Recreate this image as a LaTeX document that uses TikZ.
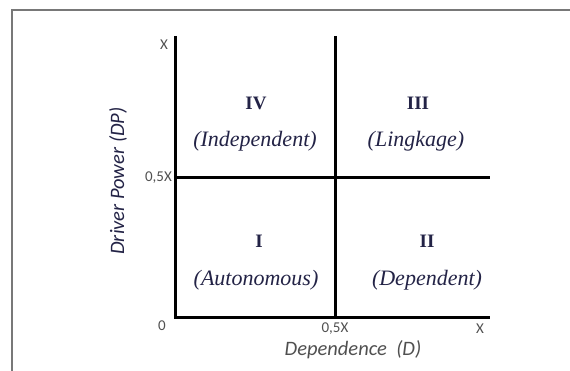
\documentclass[tikz,border=0pt]{standalone}
\usepackage{fontspec}
\setmainfont{Liberation Serif}
\newfontfamily\axisfont{Carlito}
\definecolor{quadink}{RGB}{35,35,70}
\definecolor{tickink}{RGB}{80,80,80}
\definecolor{frameink}{RGB}{120,120,120}

\begin{document}
\begin{tikzpicture}[
  x=1pt, y=1pt,
  frame line/.style={
    draw,
    frameink,
    line width=1.6pt
  },
  axis line/.style={
    draw,
    black,
    line width=3pt
  },
  quad num/.style={
    quadink,
    font=\fontsize{19}{21}\selectfont\bfseries
  },
  quad name/.style={
    quadink,
    font=\fontsize{22}{24}\selectfont\itshape
  },
  tick label/.style={
    tickink,
    font=\axisfont\fontsize{15}{16}\selectfont,
    inner sep=1pt
  },
  axis title/.style={
    tickink,
    font=\axisfont\fontsize{20.5}{22}\selectfont\itshape
  },
]
\useasboundingbox (0,0) rectangle (570,371);
\path[frame line] (12,0) -- (12,361) -- (570,361);

\coordinate (origin) at (175,53);
\coordinate (ytop) at (175,335);
\coordinate (xend) at (490,53);
\coordinate (midbot) at (335,53);
\coordinate (midtop) at (335,335);
\coordinate (midleft) at (175,193);
\coordinate (midright) at (490,193);

\path[axis line] (ytop) -- (origin) -- (xend);
\path[axis line] (midtop) -- (midbot);
\path[axis line] (midleft) -- (midright);

\node[tick label, anchor=east] (ymax) at (169,326) {X};
\node[tick label, anchor=east] (yhalf) at (173,193) {0,5X};
\node[tick label] (zero) at (162,45) {0};
\node[tick label] (xhalf) at (335,42) {0,5X};
\node[tick label] (xmax) at (480,42) {X};

\node[axis title] (dlabel) at (353,21) {Dependence\ \ (D)};
\node[axis title, quadink, rotate=90] (dplabel) at (118,190) {Driver Power (DP)};

\node[quad num] (q4) at (256,268) {IV};
\node[quad name] (q4name) at (255,230) {(Independent)};
\node[quad num] (q3) at (418,268) {III};
\node[quad name] (q3name) at (416,230) {(Lingkage)};
\node[quad num] (q1) at (259,130) {I};
\node[quad name] (q1name) at (256,91) {(Autonomous)};
\node[quad num] (q2) at (427,130) {II};
\node[quad name] (q2name) at (427,91) {(Dependent)};
\end{tikzpicture}
\end{document}
